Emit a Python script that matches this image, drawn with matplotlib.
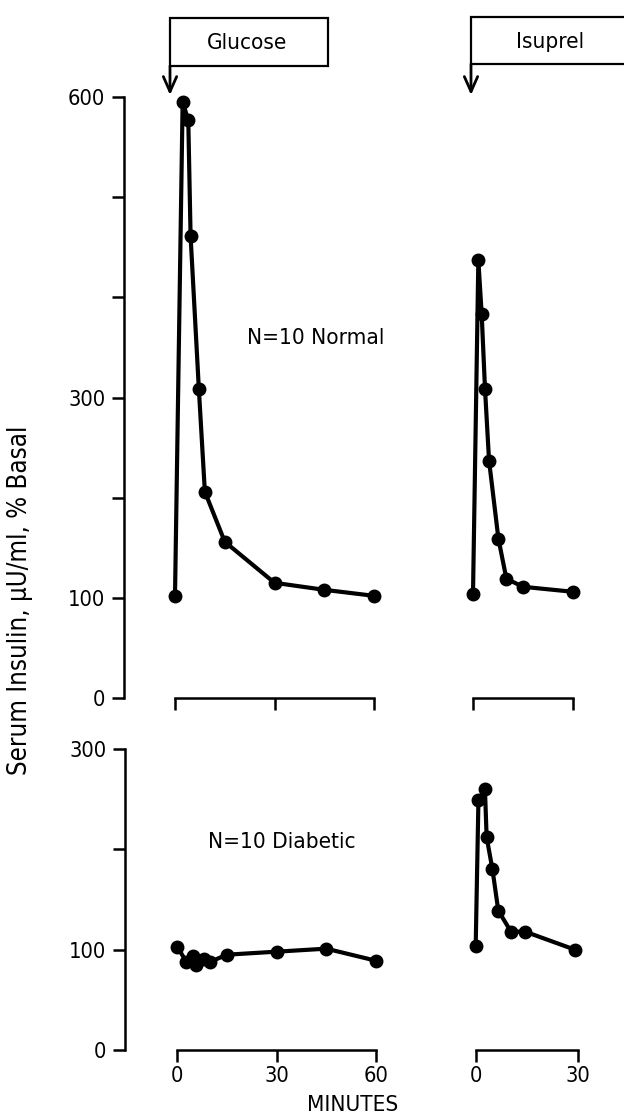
import matplotlib
matplotlib.use("Agg")
import matplotlib.pyplot as plt
from matplotlib.patches import Rectangle, FancyArrowPatch
from matplotlib import font_manager as fm

# ---------------- data ----------------
normal_glucose_t = [0, 2.3, 4, 4.7, 7.2, 9, 15, 30, 45, 60]
normal_glucose_v = [102, 595, 577, 461, 308, 206, 156, 115, 108, 102]

normal_isuprel_t = [0, 1.6, 2.6, 3.6, 4.8, 7.6, 10, 15, 30]
normal_isuprel_v = [104, 437, 383, 308, 237, 159, 119, 111, 106]

diabetic_glucose_t = [0, 2.7, 4.8, 5.5, 8, 10, 15, 30, 45, 60]
diabetic_glucose_v = [103, 88, 94, 85, 91, 88, 95, 98, 101, 89]

diabetic_isuprel_t = [0, 0.8, 2.7, 3.2, 4.9, 6.6, 10.3, 14.4, 29]
diabetic_isuprel_v = [104, 249, 260, 212, 180, 139, 118, 118, 100]

top_yticks = [0, 100, 200, 300, 400, 500, 600]
top_ylabels = ["0", "100", "", "300", "", "", "600"]
bot_yticks = [0, 100, 200, 300]
bot_ylabels = ["0", "100", "", "300"]
glucose_xticks = [0, 30, 60]
isuprel_xticks = [0, 30]

# pick a condensed face if one is installed
names = {(f.name, f.stretch) for f in fm.fontManager.ttflist}
if any(n == "Liberation Sans Narrow" for n, s in names):
    FAM, STRETCH, SCALE = "Liberation Sans Narrow", "normal", 1.1
elif any(n == "DejaVu Sans" and s == "condensed" for n, s in names):
    FAM, STRETCH, SCALE = "DejaVu Sans", "condensed", 0.95
else:
    FAM, STRETCH, SCALE = "Roboto", "normal", 1.0

plt.rcParams["font.family"] = [FAM, "DejaVu Sans"]
plt.rcParams["font.stretch"] = STRETCH

W, H = 624, 1115
fig = plt.figure(figsize=(W / 100, H / 100), dpi=100)


def px_axes(left, right, top, bottom):
    return fig.add_axes([left / W, 1 - bottom / H, (right - left) / W, (bottom - top) / H])


LW = 3.0
MS = 9
SP = 1.8
TICKFS = 16.5 * SCALE
TXTFS = 17 * SCALE


def style(ax, xticks, xlabels, yticks=None, ylabels=None):
    for s in ["top", "right"]:
        ax.spines[s].set_visible(False)
    ax.spines["bottom"].set_bounds(xticks[0], xticks[-1])
    ax.spines["bottom"].set_linewidth(SP)
    ax.set_xticks(xticks)
    ax.set_xticklabels(xlabels)
    ax.tick_params(axis="x", direction="out", length=8.5, width=SP, labelsize=TICKFS, pad=3)
    if yticks is None:
        ax.spines["left"].set_visible(False)
        ax.set_yticks([])
    else:
        ax.spines["left"].set_bounds(yticks[0], yticks[-1])
        ax.spines["left"].set_linewidth(SP)
        ax.set_yticks(yticks)
        ax.set_yticklabels(ylabels)
        ax.tick_params(axis="y", direction="out", length=8.5, width=SP, labelsize=TICKFS, pad=5)
    ax.patch.set_visible(False)


def plot(ax, t, v):
    ax.plot(t, v, color="black", lw=LW, marker="o", ms=MS, clip_on=False, solid_joinstyle="round")


# top glucose
ax1 = px_axes(124, 400, 97, 698)
ax1.set_xlim((124 - 175) / 3.317, (400 - 175) / 3.317)
ax1.set_ylim(0, 600)
plot(ax1, normal_glucose_t, normal_glucose_v)
style(ax1, glucose_xticks, ["", "", ""], top_yticks, top_ylabels)

# top isuprel
ax2 = px_axes(440, 620, 97, 698)
ax2.set_xlim((440 - 473) / 3.343, (620 - 473) / 3.343)
ax2.set_ylim(0, 600)
plot(ax2, normal_isuprel_t, normal_isuprel_v)
style(ax2, isuprel_xticks, ["", ""])

# bottom glucose
ax3 = px_axes(125, 400, 749, 1050)
ax3.set_xlim((125 - 177.3) / 3.31, (400 - 177.3) / 3.31)
ax3.set_ylim(0, 300)
plot(ax3, diabetic_glucose_t, diabetic_glucose_v)
style(ax3, glucose_xticks, [str(x) for x in glucose_xticks], bot_yticks, bot_ylabels)

# bottom isuprel
ax4 = px_axes(440, 620, 749, 1050)
ax4.set_xlim((440 - 475.7) / 3.42, (620 - 475.7) / 3.42)
ax4.set_ylim(0, 300)
plot(ax4, diabetic_isuprel_t, diabetic_isuprel_v)
style(ax4, isuprel_xticks, [str(x) for x in isuprel_xticks])


def ftext(x, y, s, **kw):
    return fig.text(x / W, 1 - y / H, s, ha="center", va="center", **kw)


# texts
ftext(316, 338, "N=10 Normal", fontsize=TXTFS)
ftext(282, 842, "N=10 Diabetic", fontsize=TXTFS)
ftext(353, 1105, "MINUTES", fontsize=TXTFS)
ftext(20, 600, "Serum Insulin, \u03bcU/ml, % Basal", rotation=90, fontsize=TXTFS * 1.15)


# boxes with arrows
def box(x0, x1, y0, y1, label, tx):
    r = Rectangle((x0 / W, 1 - y1 / H), (x1 - x0) / W, (y1 - y0) / H, transform=fig.transFigure,
                  fill=False, lw=1.6, ec="black")
    fig.add_artist(r)
    ftext(tx, (y0 + y1) / 2 + 1, label, fontsize=TXTFS)
    fig.add_artist(FancyArrowPatch(
        (x0 / W, 1 - y1 / H), (x0 / W, 1 - 95 / H), transform=fig.transFigure,
        arrowstyle="->,head_length=0.9,head_width=0.4", lw=2.0, color="black", mutation_scale=12,
        shrinkA=0, shrinkB=0))


box(170, 328, 18, 66, "Glucose", 247)
box(471, 630, 17, 64, "Isuprel", 550)

fig.savefig("out.png", dpi=100)
